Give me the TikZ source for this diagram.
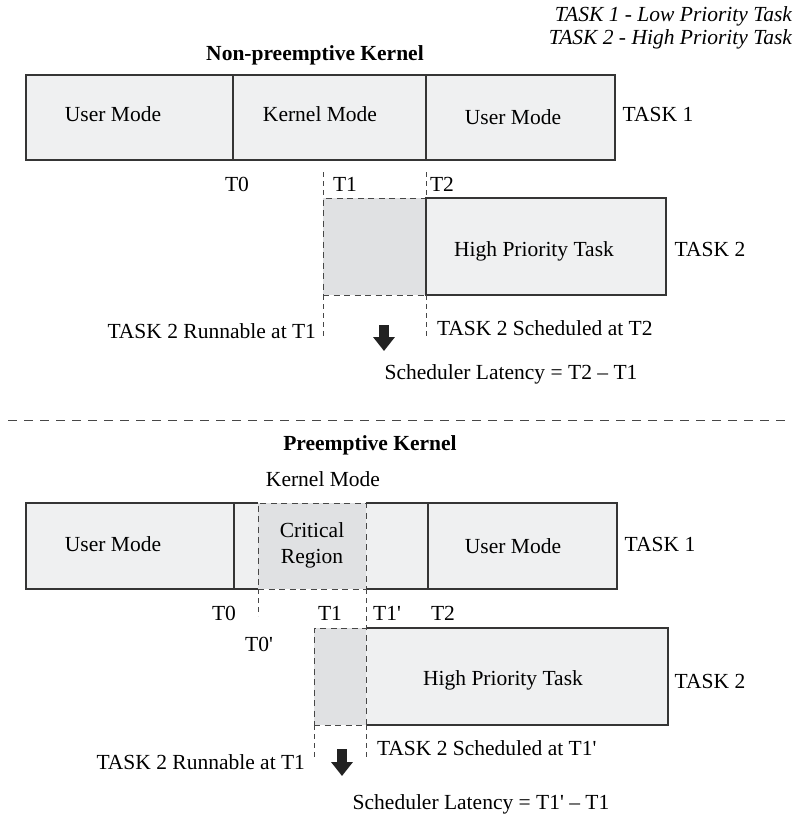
\documentclass[tikz,border=0pt]{standalone}
\usepackage{fontspec}
\setmainfont{Liberation Serif}[Ligatures=TeXOff]
\usetikzlibrary{arrows.meta}
\definecolor{boxfill}{HTML}{EFF0F1}
\definecolor{critfill}{HTML}{E0E1E3}
\definecolor{linec}{HTML}{353535}
\definecolor{dashc}{HTML}{474747}
\definecolor{arrowc}{HTML}{222222}
\begin{document}
\begin{tikzpicture}[x=1pt,y=-1pt,
  every node/.style={font=\fontsize{21.5}{24}\selectfont, inner sep=0pt, outer sep=0pt, text height=14pt, text depth=0pt},
  solidbox/.style={draw=linec, fill=boxfill, line width=1.1pt, anchor=north west},
  fillbox/.style={fill=boxfill, anchor=north west},
  dashbox/.style={draw=dashc, fill=critfill, line width=1pt, dash pattern=on 6pt off 4.5pt, anchor=north west},
  edge/.style={draw=linec, line width=1.1pt},
  dline/.style={draw=dashc, line width=1pt, dash pattern=on 5pt off 4pt},
  sepline/.style={draw=dashc, line width=1pt, dash pattern=on 9pt off 7pt},
  titlet/.style={font=\fontsize{21.5}{24}\selectfont\bfseries},
  legt/.style={font=\fontsize{21.5}{24}\selectfont\itshape, anchor=east},
  bigarrow/.style={draw=arrowc, line width=10pt, -{Triangle[width=21pt,length=14pt]}}
]
\useasboundingbox (0,0) rectangle (796,815);

% ---------- legend ----------
\node[legt] (leg1) at (792,14) {TASK 1 - Low Priority Task};
\node[legt] (leg2) at (792,37) {TASK 2 - High Priority Task};

% ---------- Non-preemptive kernel ----------
\node[titlet] (title1) at (315,53) {Non-preemptive Kernel};

\node[solidbox, minimum width=207pt, minimum height=85pt] (u1) at (26,75) {};
\node[solidbox, minimum width=193pt, minimum height=85pt] (k1) at (233,75) {};
\node[solidbox, minimum width=189pt, minimum height=85pt] (u2) at (426,75) {};
\node (u1t) at (113,114) {User Mode};
\node (k1t) at (320,114) {Kernel Mode};
\node (u2t) at (513,117) {User Mode};
\node (task1a) at (658,114) {TASK 1};

\node (t0a) at (237,184) {T0};
\node (t1a) at (345,184) {T1};
\node (t2a) at (442,184) {T2};

\node[dashbox, minimum width=103pt, minimum height=97pt] (g1) at (323,198) {};
\node[solidbox, minimum width=240pt, minimum height=97pt] (h1) at (426,198) {};
\node (h1t) at (534,249) {High Priority Task};
\node (task2a) at (710,249) {TASK 2};

\coordinate (d1t) at (323,172);
\coordinate (d1b) at (323,339);
\coordinate (d2t) at (426,172);
\coordinate (d2b) at (426,339);
\draw[dline] (d1t) -- (g1.north west);
\draw[dline] (g1.south west) -- (d1b);
\draw[dline] (d2t) -- (h1.north west);
\draw[dline] (h1.south west) -- (d2b);

\node[anchor=east] (run1) at (316,331) {TASK 2 Runnable at T1};
\node[anchor=west] (sch1) at (437,328) {TASK 2 Scheduled at T2};
\coordinate (a1s) at (384,325);
\coordinate (a1e) at (384,351);
\draw[bigarrow] (a1s) -- (a1e);
\node (lat1) at (511,372) {Scheduler Latency = T2 – T1};

% ---------- separator ----------
\coordinate (sepL) at (8,420);
\coordinate (sepR) at (786,420);
\draw[sepline] (sepL) -- (sepR);

% ---------- Preemptive kernel ----------
\node[titlet] (title2) at (370,443) {Preemptive Kernel};
\node (kmt) at (323,479) {Kernel Mode};

\node[solidbox, minimum width=208pt, minimum height=86pt] (u3) at (26,503) {};
\node[fillbox, minimum width=194pt, minimum height=86pt] (k2) at (234,503) {};
\node[solidbox, minimum width=189pt, minimum height=86pt] (u4) at (428,503) {};
\node[dashbox, minimum width=108pt, minimum height=86pt] (crit) at (258,503) {};
\draw[edge] (crit.north west) -- (k2.north west) -- (k2.south west) -- (crit.south west);
\draw[edge] (crit.north east) -- (k2.north east) -- (k2.south east) -- (crit.south east);
\node (u3t) at (113,544) {User Mode};
\node[align=center] (critt) at (312,556) {Critical\\[2pt]Region};
\node (u4t) at (513,546) {User Mode};
\node (task1b) at (660,544) {TASK 1};

\node (t0b) at (224,613) {T0};
\node (t1b) at (330,613) {T1};
\node (t1pb) at (387,613) {T1'};
\node (t2b) at (443,613) {T2};
\node (t0pb) at (259,644) {T0'};

\node[fillbox, minimum width=302pt, minimum height=97pt] (h2) at (366,628) {};
\draw[edge] (h2.north west) -- (h2.north east) -- (h2.south east) -- (h2.south west);
\node[dashbox, minimum width=52pt, minimum height=97pt] (g2) at (314,628) {};
\node (h2t) at (503,678) {High Priority Task};
\node (task2b) at (710,681) {TASK 2};

\coordinate (e1b) at (258,616);
\coordinate (e2b) at (314,760);
\coordinate (e3b) at (366,757);
\draw[dline] (crit.south west) -- (e1b);
\draw[dline] (crit.south east) -- (g2.north east);
\draw[dline] (g2.south west) -- (e2b);
\draw[dline] (g2.south east) -- (e3b);

\node[anchor=east] (run2) at (305,762) {TASK 2 Runnable at T1};
\node[anchor=west] (sch2) at (377,748) {TASK 2 Scheduled at T1'};
\coordinate (a2s) at (342,749);
\coordinate (a2e) at (342,776);
\draw[bigarrow] (a2s) -- (a2e);
\node (lat2) at (481,802) {Scheduler Latency = T1' – T1};
\end{tikzpicture}
\end{document}
